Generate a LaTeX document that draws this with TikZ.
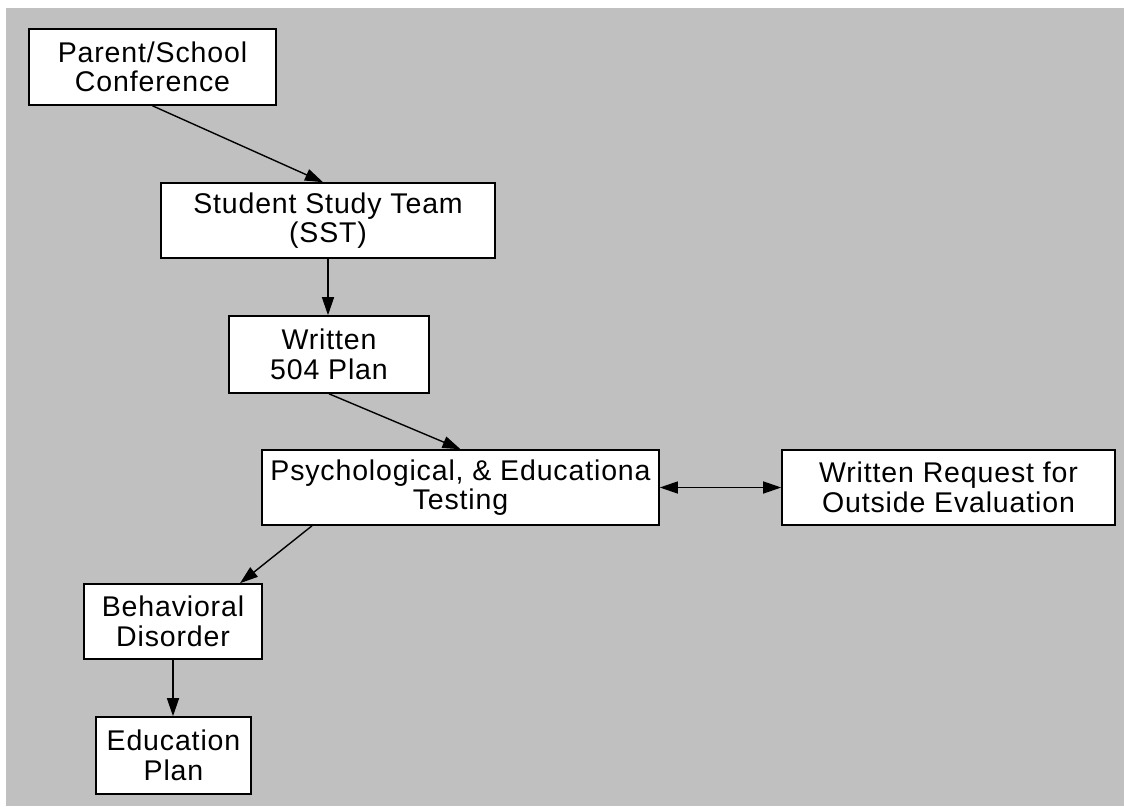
\documentclass[tikz,border=0pt]{standalone}
\usepackage{fontspec}
\setmainfont{Liberation Sans}[LetterSpace=3]
\usetikzlibrary{arrows.meta}
\definecolor{panel}{HTML}{C0C0C0}
\begin{document}
\begin{tikzpicture}[x=1pt,y=-1pt,
  box/.style={draw=black, fill=white, line width=1.6pt, inner sep=0pt,
    align=center, font=\fontsize{28.5}{29.5}\selectfont},
  link/.style={line width=1.4pt, -{Triangle[length=18pt,width=12pt]}},
  twoway/.style={line width=1.4pt, {Triangle[length=18pt,width=12pt]}-{Triangle[length=18pt,width=12pt]}}]
  \useasboundingbox (0,0) rectangle (1124,806);
  \fill[panel] (6,8) rectangle (1124,806);

  \node[box, minimum width=247pt, minimum height=76pt] (conf) at (152.5,67) {Parent/School\\Conference};
  \node[box, minimum width=334pt, minimum height=75pt] (sst) at (328,220.5) {Student Study Team\\(SST)};
  \node[box, minimum width=200pt, minimum height=77pt] (plan) at (329,354.5) {Written\\504 Plan};
  \node[box, minimum width=397pt, minimum height=75pt] (test) at (460.5,487.5) {Psychological, \& Educationa\\Testing};
  \node[box, minimum width=333pt, minimum height=75pt] (req) at (948.5,487.5) {Written Request for\\Outside Evaluation};
  \node[box, minimum width=178pt, minimum height=75pt] (beh) at (173,621.5) {Behavioral\\Disorder};
  \node[box, minimum width=155pt, minimum height=77pt] (edu) at (173.5,755.5) {Education\\Plan};

  \draw[link] (conf.south) -- ([xshift=-5pt]sst.north);
  \draw[link] (sst.south) -- (sst.south |- plan.north);
  \draw[link] (plan.south) -- (test.north);
  \draw[twoway] (test.east) -- (req.west);
  \draw[link] ([xshift=-148.5pt]test.south) -- ([xshift=67pt]beh.north);
  \draw[link] (beh.south) -- (beh.south |- edu.north);
\end{tikzpicture}
\end{document}
